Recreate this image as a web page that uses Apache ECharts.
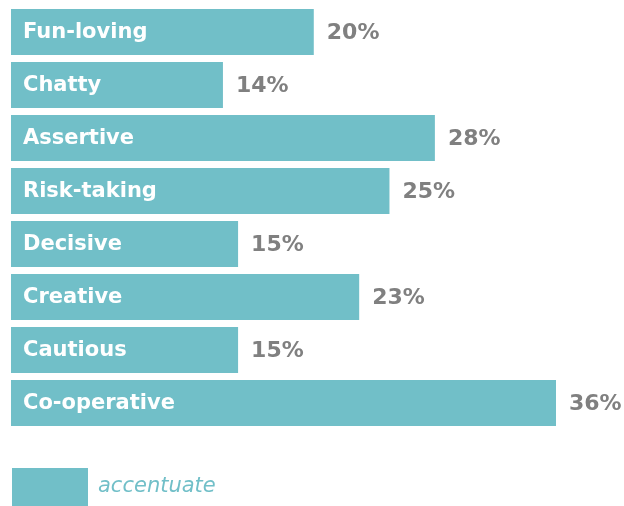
<!DOCTYPE html>
<html><head><meta charset="utf-8">
<script src="https://cdn.jsdelivr.net/npm/echarts@6/dist/echarts.min.js"></script>
<style>html,body{margin:0;padding:0;background:#fff}#c{width:624px;height:506px}</style>
</head><body><div id="c"></div>
<script>
var categories = ["Fun-loving","Chatty","Assertive","Risk-taking","Decisive","Creative","Cautious","Co-operative"];
var values = [20,14,28,25,15,23,15,36];
var seriesName = "accentuate";
var chart = echarts.init(document.getElementById('c'), null, {renderer:'canvas'});
chart.setOption({
  animation:false,
  backgroundColor:'#fff',
  grid:{left:11,right:68,top:5.5,height:424,containLabel:false},
  xAxis:{type:'value',min:0,max:36,show:false},
  yAxis:{type:'category',data:categories,inverse:true,show:false},
  legend:{left:12,top:468,padding:0,itemWidth:76,itemHeight:38,itemGap:10,icon:'rect',
    data:[seriesName],
    textStyle:{color:'#71BFC8',fontStyle:'italic',fontFamily:'DejaVu Sans',fontSize:21,padding:[2,0,0,5]}},
  series:[{
    name:seriesName,type:'bar',data:values,barCategoryGap:'13%',
    itemStyle:{color:'#71BFC8'}
  },{
    type:'bar',data:values,barGap:'-100%',barCategoryGap:'13%',
    itemStyle:{color:'rgba(0,0,0,0)'},silent:true,
    label:{show:true,position:'insideLeft',distance:12,offset:[0,1],
      formatter:function(p){return categories[p.dataIndex];},
      color:'#fff',fontWeight:'bold',fontFamily:'DejaVu Sans',fontSize:21}
  },{
    type:'bar',data:values,barGap:'-100%',barCategoryGap:'13%',
    itemStyle:{color:'rgba(0,0,0,0)'},silent:true,
    label:{show:true,position:'right',distance:13,offset:[0,1],
      formatter:function(p){return p.value+'%';},
      color:'#808080',fontWeight:'bold',fontFamily:'DejaVu Sans',fontSize:22}
  }]
});
</script></body></html>
